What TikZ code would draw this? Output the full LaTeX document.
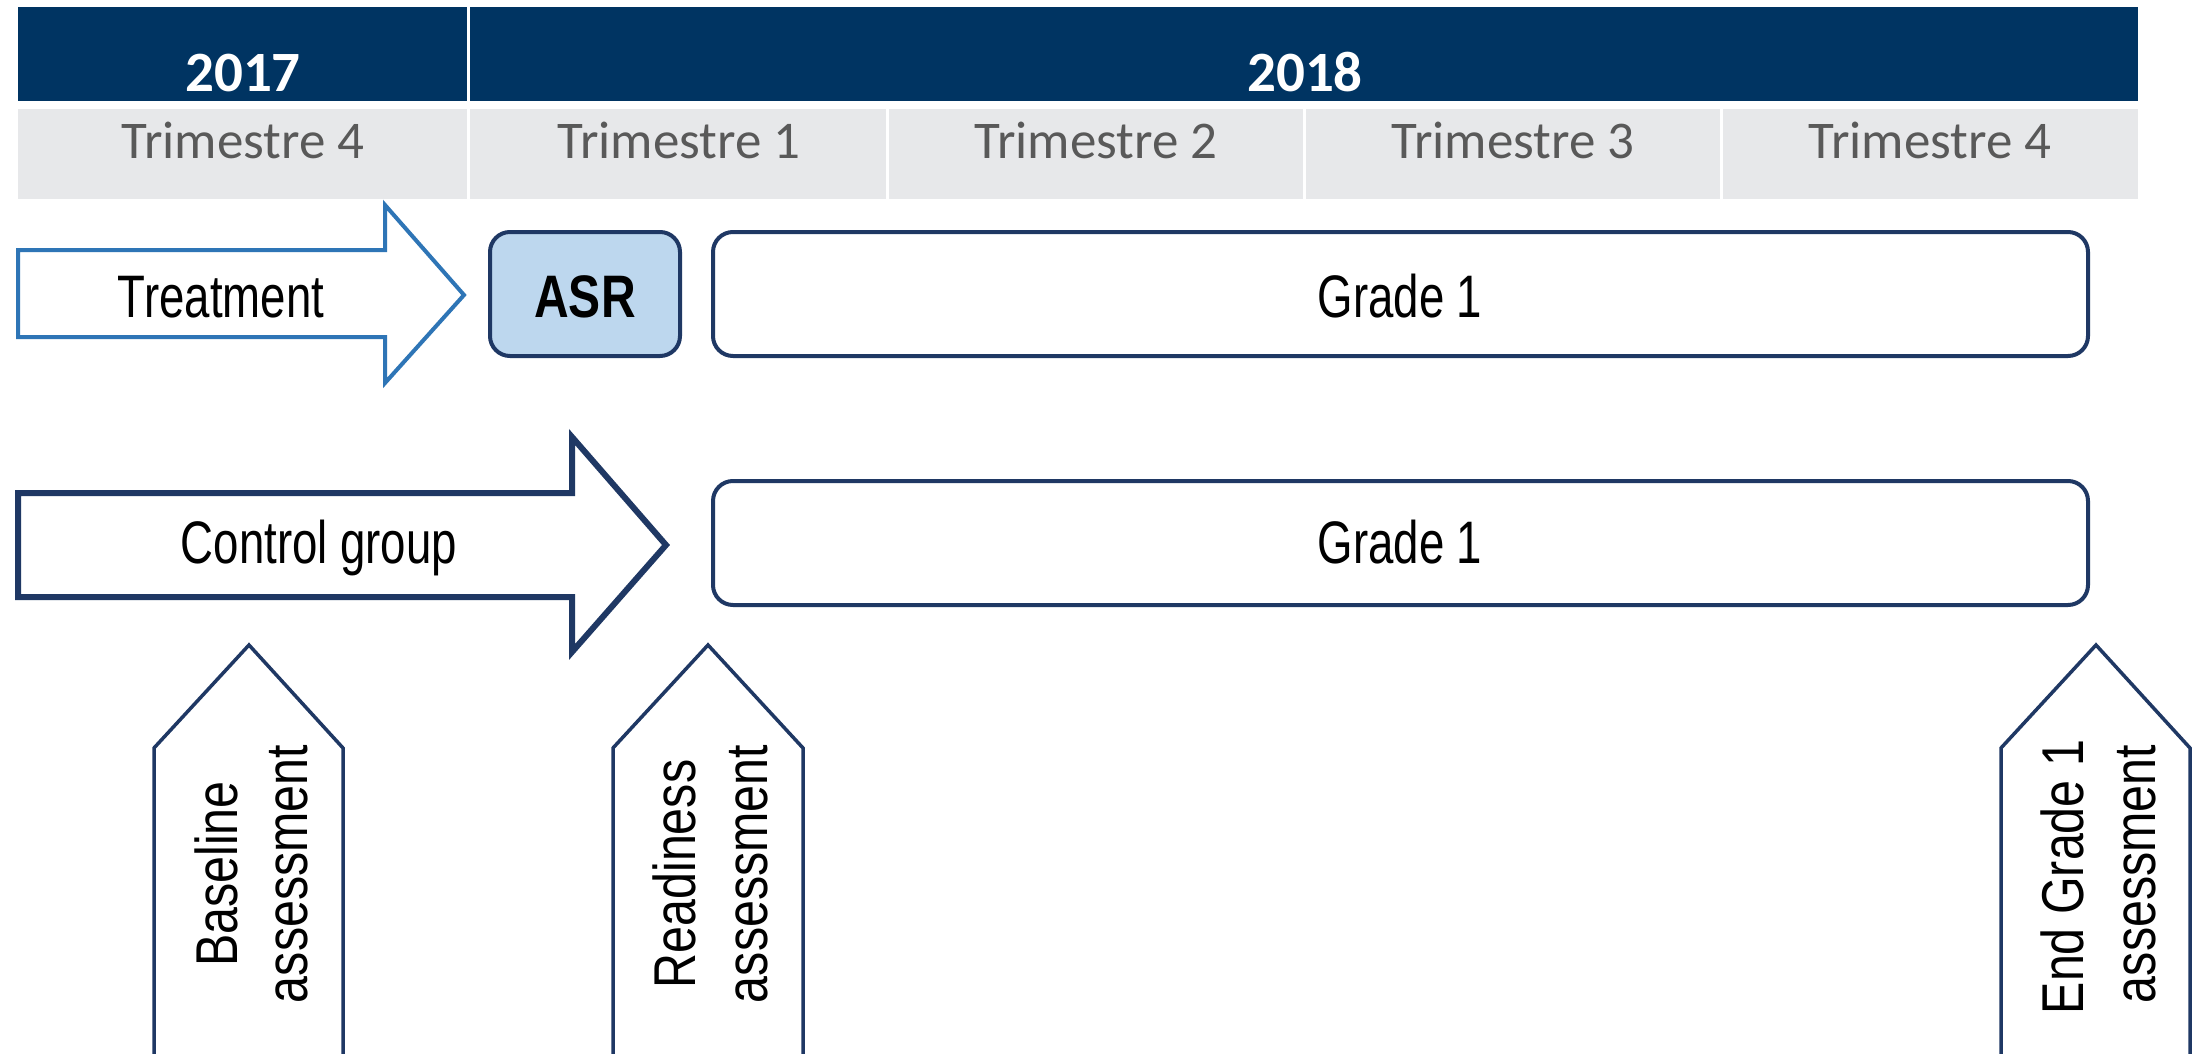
\documentclass[tikz,border=0pt]{standalone}
\usepackage{fontspec}
\usepackage{graphicx}
\setmainfont{Carlito}
\newfontfamily\arialf{Liberation Sans}
\definecolor{hdrnavy}{HTML}{003462}
\definecolor{cellgray}{HTML}{E7E8EA}
\definecolor{qtxt}{HTML}{595959}
\definecolor{treatblue}{HTML}{2E75B6}
\definecolor{asrfill}{HTML}{BDD7EE}
\definecolor{darkline}{HTML}{1F3864}
\tikzset{
  yearcell/.style={fill=hdrnavy, inner sep=0pt, anchor=north west, minimum height=94pt},
  qcell/.style={fill=cellgray, inner sep=0pt, anchor=north west, minimum height=90pt},
  yeartxt/.style={text=white, inner sep=0pt, anchor=base, font=\fontsize{57}{64}\selectfont\bfseries},
  qtext/.style={text=qtxt, inner sep=0pt, anchor=base, font=\fontsize{53}{60}\selectfont},
  lbl/.style={text=black, inner sep=0pt, anchor=base, font=\arialf\fontsize{60}{70}\selectfont},
  vlbl/.style={text=black, inner sep=0pt, anchor=base, rotate=90, font=\arialf\fontsize{59}{70}\selectfont},
  gradebox/.style={draw=darkline, line width=4pt, rounded corners=20pt, fill=white},
  asrbox/.style={draw=darkline, line width=4pt, rounded corners=20pt, fill=asrfill},
  upmark/.style={draw=darkline, line width=3.5pt, fill=white, line join=miter},
}
\begin{document}
\begin{tikzpicture}[x=1pt, y=-1pt]
\useasboundingbox (0,0) rectangle (2201,1054);
\clip (0,0) rectangle (2201,1054);
\fill[white] (0,0) rectangle (2201,1054);

% header: years
\node[yearcell, minimum width=449pt] (y17) at (18,7) {};
\node[yearcell, minimum width=1668pt] (y18) at (470,7) {};
\node[yeartxt] (t17) at (243,92) {2017};
\node[yeartxt] (t18) at (1305,92) {2018};

% header: quarters
\node[qcell, minimum width=449pt] (q0) at (18,109) {};
\node[qcell, minimum width=416pt] (q1) at (470,109) {};
\node[qcell, minimum width=414pt] (q2) at (889,109) {};
\node[qcell, minimum width=414pt] (q3) at (1306,109) {};
\node[qcell, minimum width=415pt] (q4) at (1723,109) {};
\node[qtext] (tq0) at (243,158) {Trimestre 4};
\node[qtext] (tq1) at (679,158) {Trimestre 1};
\node[qtext] (tq2) at (1096,158) {Trimestre 2};
\node[qtext] (tq3) at (1513,158) {Trimestre 3};
\node[qtext] (tq4) at (1930,158) {Trimestre 4};

% treatment arrow
\draw[treatblue, line width=4pt, fill=white, line join=miter]
  (18,250) -- (385,250) -- (385,205) -- (464,295) -- (385,383) -- (385,337) -- (18,337) -- cycle;
\node[lbl] (treat) at (221,317) {\scalebox{0.76}[1]{Treatment}};

% ASR box
\draw[asrbox] (490,232) rectangle (680,356);
\node[lbl, font=\arialf\fontsize{60}{70}\selectfont\bfseries] (asr) at (585,317) {\scalebox{0.8}[1]{ASR}};

% Grade 1 boxes
\draw[gradebox] (713,232) rectangle (2088,356);
\node[lbl] (g1a) at (1400,317) {\scalebox{0.76}[1]{Grade 1}};
\draw[gradebox] (713,481) rectangle (2088,605);
\node[lbl] (g1b) at (1400,563) {\scalebox{0.76}[1]{Grade 1}};

% control arrow
\draw[darkline, line width=6pt, fill=white, line join=miter]
  (18,493) -- (572,493) -- (572,437) -- (666,545) -- (572,652) -- (572,597) -- (18,597) -- cycle;
\node[lbl] (ctrl) at (319,563) {\scalebox{0.76}[1]{Control group}};

% assessment markers
\draw[upmark] (154,1080) -- (154,748) -- (249,645) -- (343,748) -- (343,1080) -- cycle;
\node[vlbl] (ba1) at (237,874) {\scalebox{0.82}[1]{Baseline}};
\node[vlbl] (ba2) at (307,874) {\scalebox{0.82}[1]{assessment}};

\draw[upmark] (613,1080) -- (613,748) -- (708,645) -- (803,748) -- (803,1080) -- cycle;
\node[vlbl] (ra1) at (695,874) {\scalebox{0.82}[1]{Readiness}};
\node[vlbl] (ra2) at (767,874) {\scalebox{0.82}[1]{assessment}};

\draw[upmark] (2001,1080) -- (2001,748) -- (2096,645) -- (2190,748) -- (2190,1080) -- cycle;
\node[vlbl] (ea1) at (2083,877) {\scalebox{0.82}[1]{End Grade 1}};
\node[vlbl] (ea2) at (2155,874) {\scalebox{0.82}[1]{assessment}};
\end{tikzpicture}
\end{document}
